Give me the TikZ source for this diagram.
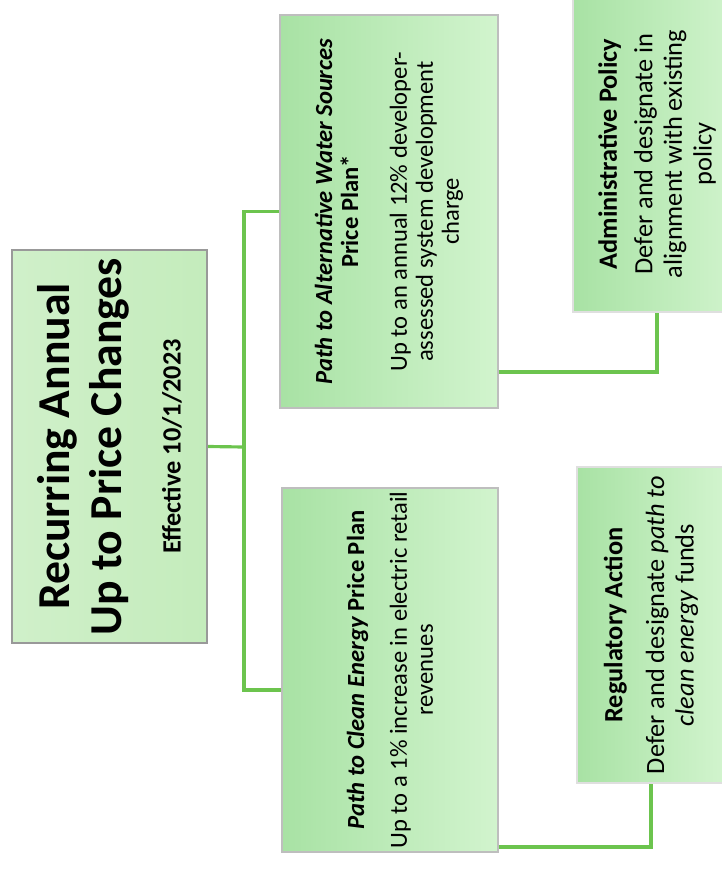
\documentclass[tikz,border=0pt]{standalone}
\usepackage{fontspec}
\setmainfont{Carlito}
\definecolor{boxdark}{RGB}{168,226,164}
\definecolor{boxpale}{RGB}{210,244,206}
\definecolor{rootfill}{RGB}{196,236,188}
\definecolor{linkgreen}{RGB}{108,196,78}
\definecolor{edgegray}{RGB}{190,190,190}

\begin{document}
\begin{tikzpicture}[x=0.02cm,y=-0.02cm,
  box/.style={rotate=90,draw=edgegray,line width=0.8pt,left color=boxdark,right color=boxpale,align=center,inner sep=0pt},
  link/.style={draw=linkgreen,line width=1.8pt}]
\useasboundingbox (0,0) rectangle (722,896);
\clip (0,0) rectangle (722,896);

%root box
\node[box,draw=gray!80,line width=1.4pt,left color=rootfill!80!white,right color=rootfill,
      minimum width=7.86cm,minimum height=3.9cm,font=\fontsize{26}{30}\selectfont\bfseries]
  (root) at (109.5,446.5) {Recurring Annual\\Up to Price Changes\\[3.5pt]{\fontsize{15}{18}\selectfont Effective 10/1/2023}};

%first level
\node[box,minimum width=7.86cm,minimum height=4.36cm,font=\fontsize{14}{14.8}\selectfont]
  (alt) at (389,211.5) {\textbf{\textit{Path to Alternative Water Sources}}\\\textbf{Price Plan*}\\[13pt]Up to an annual 12\% developer-\\assessed system development\\charge};
\node[box,minimum width=7.28cm,minimum height=4.32cm,font=\fontsize{14}{14.8}\selectfont]
  (clean) at (390,670) {\textbf{\textit{Path to Clean Energy} Price Plan}\\[9.5pt]Up to a 1\% increase in electric retail\\revenues};

%second level
\node[box,draw=edgegray!50,minimum width=6.32cm,minimum height=3.36cm,font=\fontsize{15}{16.8}\selectfont]
  (admin) at (657,154) {\textbf{Administrative Policy}\\[3.5pt]Defer and designate in\\alignment with existing\\policy};
\node[box,draw=edgegray!50,minimum width=6.32cm,minimum height=2.96cm,font=\fontsize{15}{16.8}\selectfont]
  (reg) at (651,625) {\textbf{Regulatory Action}\\[7pt]Defer and designate \textit{path to}\\\textit{clean energy} funds};

%connectors
\coordinate (trunk) at (244,447);
\draw[link] (root.south) -- (trunk);
\draw[link] (trunk) |- (alt.north);
\draw[link] (trunk) |- (clean.north |- 0,690);
\draw[link] (alt.south |- 0,372) -| (admin.west);
\draw[link] (clean.south |- 0,847) -| (reg.west);

\end{tikzpicture}
\end{document}
